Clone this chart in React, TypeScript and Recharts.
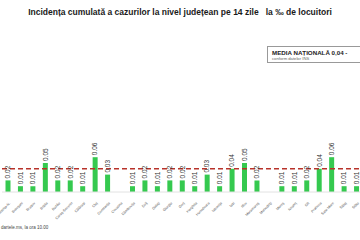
import { BarChart, Bar, XAxis, YAxis, ReferenceLine, LabelList } from "recharts";

const counties = [
  "Bistrița-N.", "Botoșani", "Brașov", "Brăila", "Buzău", "Caraș-Severin",
  "Călărași", "Cluj", "Constanța", "Covasna", "Dâmbovița", "Dolj", "Galați",
  "Giurgiu", "Gorj", "Harghita", "Hunedoara", "Ialomița", "Iași", "Ilfov",
  "Maramureș", "Mehedinți", "Mureș", "Neamț", "Olt", "Prahova", "Satu Mare",
  "Sălaj", "Sibiu",
];
const incidence = [
  0.02, 0.01, 0.01, 0.05, 0.02, 0.02, 0.01, 0.06, 0.03, 0.0, 0.01, 0.02, 0.01,
  0.02, 0.02, 0.01, 0.03, 0.01, 0.04, 0.05, 0.02, 0.0, 0.01, 0.01, 0.02, 0.04,
  0.06, 0.01, 0.01,
];
const nationalAverage = 0.04;

const data = counties.map((name, i) => ({ name, value: incidence[i] }));

const CountyTick = (props: any) => {
  const { x, y, payload } = props;
  return (
    <g transform={`translate(${x + 1},${y + 2})`}>
      <text
        transform="rotate(-45)"
        textAnchor="end"
        fontSize={3.6}
        fill="#555"
        dy={2}
      >
        {payload.value}
      </text>
    </g>
  );
};

const ValueLabel = (props: any) => {
  const { x, y, width, value } = props;
  const cx = x + width / 2;
  const top = y - 2;
  return (
    <text
      transform={`translate(${cx + 2.3},${top}) rotate(-90)`}
      fontSize={6.5}
      fill="#333"
      textAnchor="start"
    >
      {Number(value).toFixed(2)}
    </text>
  );
};

export default function App() {
  return (
    <div
      style={{
        position: "absolute",
        left: 0,
        top: 0,
        width: 360,
        height: 240,
        overflow: "hidden",
        background: "#fff",
        fontFamily: "'Liberation Sans', Arial, sans-serif",
      }}
    >
      <div
        style={{
          position: "absolute",
          top: 7,
          left: 0,
          width: 360,
          textAlign: "center",
          fontSize: 8.5,
          fontWeight: "bold",
          color: "#1a1a1a",
          whiteSpace: "pre",
        }}
      >
        {"Incidența cumulată a cazurilor la nivel județean pe 14 zile   la ‰ de locuitori"}
      </div>
      <div
        style={{
          position: "absolute",
          left: 267,
          top: 46,
          width: 100,
          height: 17,
          border: "1px solid #999",
          boxSizing: "border-box",
          padding: "2px 4px",
        }}
      >
        <div style={{ fontSize: 6.2, fontWeight: "bold", color: "#222", whiteSpace: "nowrap" }}>
          MEDIA NAȚIONALĂ 0,04 -
        </div>
        <div style={{ fontSize: 4.2, color: "#666", whiteSpace: "nowrap" }}>
          conform datelor INS
        </div>
      </div>
      <div
        style={{
          position: "absolute",
          left: 1,
          top: 225,
          fontSize: 4.5,
          color: "#444",
          whiteSpace: "nowrap",
        }}
      >
        dartele.ms, la ora 10.00
      </div>
      <div style={{ position: "absolute", left: 0, top: 0 }}>
        <BarChart
          width={363}
          height={240}
          data={data}
          margin={{ top: 134, right: 0, left: 2, bottom: 0 }}
          barCategoryGap={3.5}
        >
          <XAxis
            dataKey="name"
            interval={0}
            height={48}
            tick={<CountyTick />}
            tickLine={false}
            axisLine={{ stroke: "#e2e2e2" }}
          />
          <YAxis hide domain={[0, 0.1]} />
          <ReferenceLine
            y={nationalAverage}
            stroke="#b8322a"
            strokeWidth={1.5}
            strokeDasharray="5 3"
          />
          <Bar dataKey="value" fill="#35c94f" isAnimationActive={false}>
            <LabelList dataKey="value" content={<ValueLabel />} />
          </Bar>
        </BarChart>
      </div>
    </div>
  );
}
